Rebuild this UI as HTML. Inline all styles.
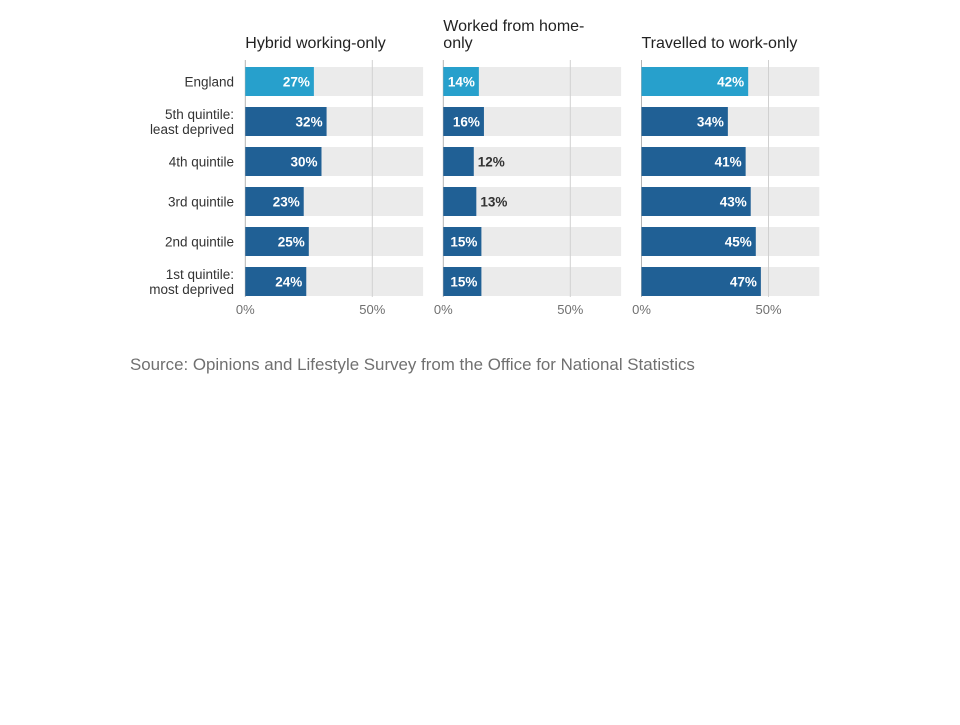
<!DOCTYPE html>
<html><head><meta charset="utf-8"><style>
body{margin:0;background:#fff;width:960px;height:720px;overflow:hidden;font-family:"Liberation Sans",sans-serif}
</style></head><body>
<svg id="chart" width="960" height="720" xmlns="http://www.w3.org/2000/svg" font-family="Liberation Sans, sans-serif"></svg>
<script>
const categories=["England","5th quintile:|least deprived","4th quintile","3rd quintile","2nd quintile","1st quintile:|most deprived"];
const panelTitles=[["Hybrid working-only"],["Worked from home-","only"],["Travelled to work-only"]];
const hybrid=[27,32,30,23,25,24];
const wfh=[14,16,12,13,15,15];
const travelled=[42,34,41,43,45,47];
const ticks=[0,50];
const series=[hybrid,wfh,travelled];
const svg=document.getElementById('chart');
const NS="http://www.w3.org/2000/svg";
function mk(t,a,p){const e=document.createElementNS(NS,t);for(const k in a)e.setAttribute(k,a[k]);(p||svg).appendChild(e);return e;}
const panelX=[245.3,443.3,641.5],pxPer=2.54,maxV=70;
const x=(p,v)=>panelX[p]+v*pxPer;
const y0=67,pitch=40,bh=29;
const y=i=>y0+i*pitch;
categories.forEach((c,i)=>{
  const lines=c.split('|');
  const t=mk('text',{x:234,'text-anchor':'end','font-size':13.5,fill:'#333'});
  
  
  lines.forEach((l,j)=>{const s=mk('tspan',{x:234,y:y(i)+bh/2+5+(lines.length>1?(j-0.5)*15:0)},t);s.textContent=l;});
});
series.forEach((data,p)=>{
  const g=mk('g',{});
  
  
  const tl=panelTitles[p];
  tl.forEach((l,j)=>{const t=mk('text',{x:panelX[p],y:48-(tl.length-1-j)*17,'font-size':16,fill:'#222'},g);
    
    
    t.textContent=l;});
  data.forEach((v,i)=>{
    const bg=mk('rect',{x:x(p,0),y:y(i),width:maxV*pxPer,height:bh,fill:'#ebebeb'},g);
    
    
  });
  ticks.forEach(tv=>{
    const l=mk('line',{x1:x(p,tv),x2:x(p,tv),y1:60,y2:297,stroke:tv===0?'#b3b3b3':'#d0d0d0','stroke-width':1},g);
    
    
    const t=mk('text',{x:x(p,tv),y:314,'text-anchor':'middle','font-size':13,fill:'#707070'},g);
    
    
    t.textContent=tv+'%';
  });
  data.forEach((v,i)=>{
    const r=mk('rect',{x:x(p,0),y:y(i),width:v*pxPer,height:bh,fill:i===0?'#27a0cc':'#206095'},g);
    
    
    const inside=v*pxPer>34;
    const t=mk('text',{x:inside?x(p,v)-4:x(p,v)+4,y:y(i)+bh/2+5,'text-anchor':inside?'end':'start','font-size':13.5,'font-weight':'bold',fill:inside?'#fff':'#333'},g);
    
    
    t.textContent=v+'%';
  });
});
const src=mk('text',{x:130,y:370,'font-size':16.9,fill:'#707070'});


src.textContent='Source: Opinions and Lifestyle Survey from the Office for National Statistics';
</script>
</body></html>
